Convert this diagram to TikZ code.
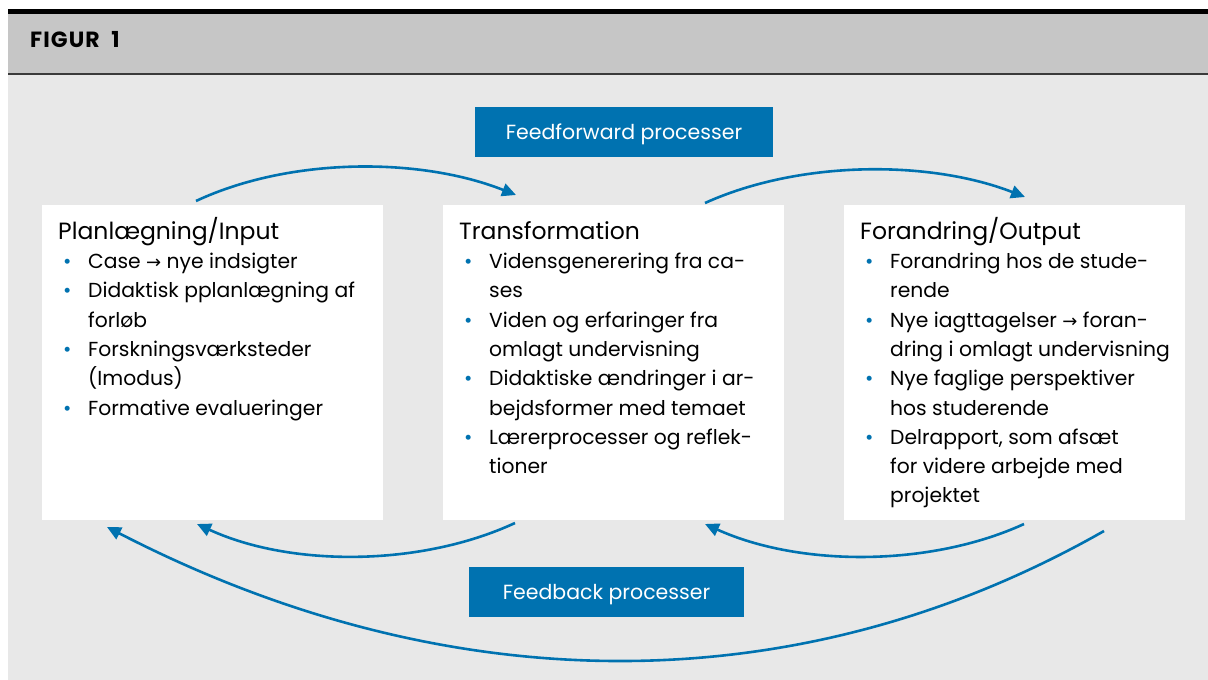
\documentclass[tikz,border=0pt]{standalone}
\usepackage{fontspec}
\setmainfont{Poppins}
\newfontfamily\arrowfont{DejaVu Sans}
\usetikzlibrary{arrows.meta}
\definecolor{fblue}{HTML}{0072B0}
\definecolor{hdrgrey}{HTML}{C6C6C6}
\definecolor{bggrey}{HTML}{E8E8E8}
\definecolor{rulegrey}{HTML}{3A3A3A}
\newcommand{\bul}{\makebox[30pt][l]{\hspace*{5pt}\textcolor{fblue}{\textbullet}}}
\newcommand{\ind}{\hspace*{30pt}}
\newcommand{\rarr}{{\arrowfont\fontsize{18}{18}\selectfont →}}
\newcommand{\hd}[1]{{\fontsize{23.5}{29.3}\selectfont\rule{0pt}{24pt}#1}}
\tikzset{
  panel/.style={fill=white, draw=none, minimum width=341pt, minimum height=315pt, inner sep=0pt},
  content/.style={anchor=north west, align=left, inner sep=0pt, font=\fontsize{20.3}{29.3}\selectfont, text=black},
  tag/.style={fill=fblue, text=white, inner sep=0pt, text height=16pt, text depth=2pt, font=\fontsize{20.5}{20.5}\selectfont},
  flow/.style={draw=fblue, line width=2.6pt, -{Triangle[length=14pt,width=13pt]}},
}
\begin{document}
\begin{tikzpicture}[x=1pt,y=-1pt]
\useasboundingbox (0,0) rectangle (1208,680);
\fill[white] (0,0) rectangle (1208,680);
\fill[bggrey] (8,74) rectangle (1208,680);
\fill[hdrgrey] (8,14) rectangle (1208,74);
\fill[black] (8,8.5) rectangle (1208,14);
\draw[line width=1.5pt, rulegrey] (8,74) -- (1208,74);
\node[anchor=base west, inner sep=0pt, font=\bfseries\fontsize{22}{22}\selectfont\addfontfeature{LetterSpace=5}] (title) at (30,47) {FIGUR\hspace{6pt} 1};

% panels
\node[panel] (b1) at (212.5,362.5) {};
\node[panel] (b2) at (613.5,362.5) {};
\node[panel] (b3) at (1014.5,362.5) {};

% tags
\node[tag, minimum width=298pt, minimum height=50pt] (ff) at (624,132) {Feedforward processer};
\node[tag, minimum width=275pt, minimum height=50pt] (fb) at (606.5,592) {Feedback processer};

% texts
\node[content] (t1) at (58,215) {%
\hd{Planlægning/Input}\\
\bul Case \rarr\ nye indsigter\\
\bul Didaktisk pplanlægning af\\
\ind forløb\\
\bul Forskningsværksteder\\
\ind (Imodus)\\
\bul Formative evalueringer};
\node[content] (t2) at (459,215) {%
\hd{Transformation}\\
\bul Vidensgenerering fra ca-\\
\ind ses\\
\bul Viden og erfaringer fra\\
\ind omlagt undervisning\\
\bul Didaktiske ændringer i ar-\\
\ind bejdsformer med temaet\\
\bul Lærerprocesser og reflek-\\
\ind tioner};
\node[content] (t3) at (860,215) {%
\hd{Forandring/Output}\\
\bul Forandring hos de stude-\\
\ind rende\\
\bul Nye iagttagelser \rarr\ foran-\\
\ind dring i omlagt undervisning\\
\bul Nye faglige perspektiver\\
\ind hos studerende\\
\bul Delrapport, som afsæt\\
\ind for videre arbejde med\\
\ind projektet};

% connector end points
\coordinate (f1s) at (196,201);
\coordinate (f1e) at (516,195);
\coordinate (f2s) at (705,203);
\coordinate (f2e) at (1025,197);
\coordinate (k1s) at (515,523);
\coordinate (k1e) at (197,524);
\coordinate (k2s) at (1024,524);
\coordinate (k2e) at (705,524);
\coordinate (k3s) at (1104,531);
\coordinate (k3e) at (107,527);

\draw[flow] (f1s) .. controls (290,157) and (420,157) .. (f1e);
\draw[flow] (f2s) .. controls (800,160) and (930,160) .. (f2e);
\draw[flow] (k1s) .. controls (420,567) and (290,567) .. (k1e);
\draw[flow] (k2s) .. controls (930,567) and (800,567) .. (k2e);
\draw[flow] (k3s) .. controls (800,704) and (450,704) .. (k3e);
\end{tikzpicture}
\end{document}
